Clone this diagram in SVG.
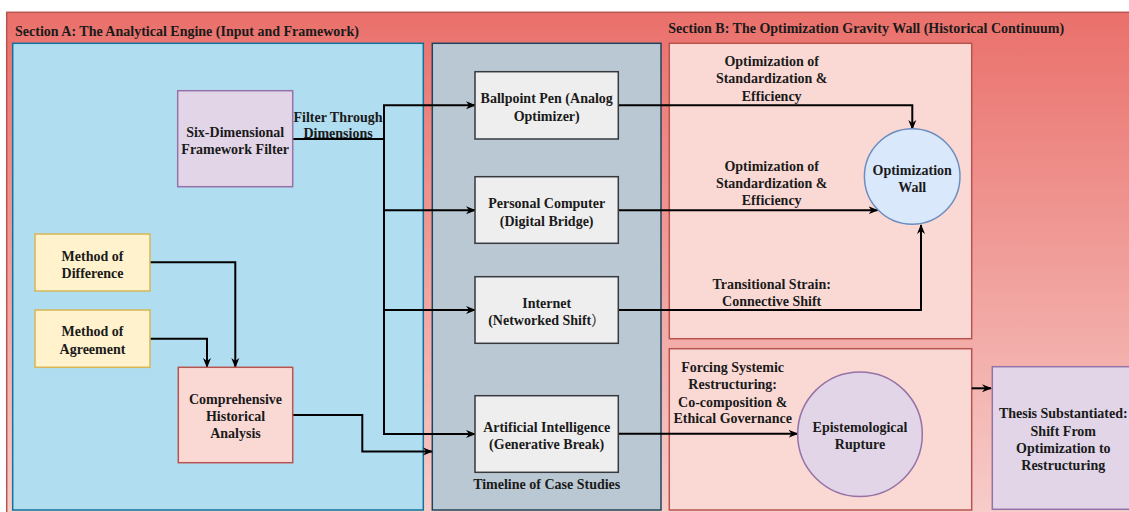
<svg xmlns="http://www.w3.org/2000/svg" width="1129" height="512" viewBox="0 0 1129 512">
  <defs>
    <linearGradient id="bgGrad" x1="0" y1="0" x2="0" y2="1">
      <stop offset="0" stop-color="#EA706B"/>
      <stop offset="1" stop-color="#F7CDCA"/>
    </linearGradient>
    <marker id="arrow" viewBox="0 0 10 10" refX="9" refY="5" markerWidth="10" markerHeight="10" markerUnits="userSpaceOnUse" orient="auto">
      <path d="M0,1 L10,5 L0,9 L3,5 z" fill="#000"/>
    </marker>
    <style>
      text { font-family: "Liberation Serif", "Times New Roman", "DejaVu Serif", serif; font-weight: bold; font-size: 14px; fill: #1a1a1a; }
      .cjk { font-family: "Noto Sans CJK SC", sans-serif; font-weight: normal; }
      .c { text-anchor: middle; }
      .edge { fill: none; stroke: #000; stroke-width: 2; }
      .arr { marker-end: url(#arrow); }
      .case { fill: #EEEEEE; stroke: #36393D; stroke-width: 1.5; }
      .method { fill: #FFF2CC; stroke: #D6B656; stroke-width: 1.5; }
      .purple { fill: #E1D5E7; stroke: #9673A6; stroke-width: 1.5; }
      .pink { fill: #FAD9D5; stroke: #B85450; stroke-width: 1.5; }
    </style>
  </defs>

  <rect width="1129" height="512" fill="#FFFFFF"/>

  <!-- outer container -->
  <g id="outer">
    <rect x="6.7" y="12.3" width="1130" height="505" fill="url(#bgGrad)" stroke="#B85450" stroke-width="1.5"/>
    <text x="15" y="35.5">Section A: The Analytical Engine (Input and Framework)</text>
    <text x="668.3" y="33">Section B: The Optimization Gravity Wall (Historical Continuum)</text>
  </g>

  <!-- section containers -->
  <g id="section-a">
    <rect x="12.7" y="43.3" width="410.6" height="466.7" fill="#B1DDF0" stroke="#10739E" stroke-width="1.5"/>
  </g>
  <g id="timeline">
    <rect x="432.3" y="43.3" width="228.7" height="466.7" fill="#BAC8D3" stroke="#23445D" stroke-width="1.5"/>
    <text class="c" x="546.7" y="489">Timeline of Case Studies</text>
  </g>
  <g id="section-b-upper">
    <rect class="pink" x="669.3" y="43.3" width="302.4" height="295.4"/>
  </g>
  <g id="section-b-lower">
    <rect class="pink" x="669.3" y="348.7" width="302.4" height="161.3"/>
  </g>

  <!-- connectors -->
  <g id="connectors">
    <path class="edge arr" d="M293,139 H384 V105.3 H475"/>
    <path class="edge arr" d="M293,139 H384 V210.3 H475"/>
    <path class="edge arr" d="M293,139 H384 V310 H475"/>
    <path class="edge arr" d="M293,139 H384 V434 H475"/>
    <path class="edge arr" d="M150,262.3 H235.3 V367"/>
    <path class="edge arr" d="M150,338.7 H207 V367"/>
    <path class="edge arr" d="M293,415 H362.3 V451.5 H432"/>
    <path class="edge arr" d="M618.3,105.3 H912.3 V129"/>
    <path class="edge arr" d="M618.3,210.3 H877.5"/>
    <path class="edge arr" d="M618.3,310 H921 V225"/>
    <path class="edge arr" d="M618.3,433.8 H797.5"/>
    <path class="edge arr" d="M971.7,388.3 H991"/>

    <text class="c" x="338" y="121.5">Filter Through</text>
    <text class="c" x="338" y="137.5">Dimensions</text>

    <text class="c" x="771.7" y="66">Optimization of</text>
    <text class="c" x="771.7" y="83">Standardization &amp;</text>
    <text class="c" x="771.7" y="100.5">Efficiency</text>

    <text class="c" x="771.7" y="170.5">Optimization of</text>
    <text class="c" x="771.7" y="187.5">Standardization &amp;</text>
    <text class="c" x="771.7" y="205">Efficiency</text>

    <text class="c" x="771.7" y="289">Transitional Strain:</text>
    <text class="c" x="771.7" y="306">Connective Shift</text>

    <text class="c" x="732.7" y="372">Forcing Systemic</text>
    <text class="c" x="732.7" y="389">Restructuring:</text>
    <text class="c" x="732.7" y="406.5">Co-composition &amp;</text>
    <text class="c" x="732.7" y="423">Ethical Governance</text>
  </g>

  <!-- nodes -->
  <g id="six-dimensional-filter">
    <rect class="purple" x="177.7" y="90.7" width="115" height="96"/>
    <text class="c" x="235.2" y="136.5">Six-Dimensional</text>
    <text class="c" x="235.2" y="153.5">Framework Filter</text>
  </g>

  <g id="method-of-difference">
    <rect class="method" x="35" y="234" width="115" height="57"/>
    <text class="c" x="92.5" y="260.5">Method of</text>
    <text class="c" x="92.5" y="277.5">Difference</text>
  </g>

  <g id="method-of-agreement">
    <rect class="method" x="35" y="310" width="115" height="57.3"/>
    <text class="c" x="92.5" y="336">Method of</text>
    <text class="c" x="92.5" y="353.5">Agreement</text>
  </g>

  <g id="comprehensive-analysis">
    <rect class="pink" x="178.3" y="367.3" width="114.4" height="95.4" stroke="#AE4132"/>
    <text class="c" x="235.5" y="404">Comprehensive</text>
    <text class="c" x="235.5" y="421">Historical</text>
    <text class="c" x="235.5" y="438">Analysis</text>
  </g>

  <g id="ballpoint-pen">
    <rect class="case" x="475" y="71.7" width="143.3" height="67.3"/>
    <text class="c" x="546.7" y="103">Ballpoint Pen (Analog</text>
    <text class="c" x="546.7" y="120.5">Optimizer)</text>
  </g>

  <g id="personal-computer">
    <rect class="case" x="475" y="176.7" width="143.3" height="66.6"/>
    <text class="c" x="546.7" y="208">Personal Computer</text>
    <text class="c" x="546.7" y="225.5">(Digital Bridge)</text>
  </g>

  <g id="internet">
    <rect class="case" x="475" y="276.7" width="143.3" height="66.6"/>
    <text class="c" x="546.7" y="307.5">Internet</text>
    <text class="c" x="546.7" y="325">(Networked Shift<tspan class="cjk">）</tspan></text>
  </g>

  <g id="artificial-intelligence">
    <rect class="case" x="475" y="395.7" width="143.3" height="76.6"/>
    <text class="c" x="546.7" y="431.5">Artificial Intelligence</text>
    <text class="c" x="546.7" y="449">(Generative Break)</text>
  </g>

  <g id="optimization-wall">
    <circle cx="912.2" cy="176.5" r="47.8" fill="#DAE8FC" stroke="#6C8EBF" stroke-width="1.5"/>
    <text class="c" x="912.2" y="175">Optimization</text>
    <text class="c" x="912.2" y="191.5">Wall</text>
  </g>

  <g id="epistemological-rupture">
    <circle cx="860" cy="434.2" r="62.3" fill="#E1D5E7" stroke="#9673A6" stroke-width="1.5"/>
    <text class="c" x="860" y="431.5">Epistemological</text>
    <text class="c" x="860" y="449">Rupture</text>
  </g>

  <g id="thesis-substantiated">
    <rect class="purple" x="992.3" y="366.7" width="145" height="142.6"/>
    <text class="c" x="1063.3" y="418">Thesis Substantiated:</text>
    <text class="c" x="1063.3" y="435.5">Shift From</text>
    <text class="c" x="1063.3" y="453">Optimization to</text>
    <text class="c" x="1063.3" y="470">Restructuring</text>
  </g>
</svg>
